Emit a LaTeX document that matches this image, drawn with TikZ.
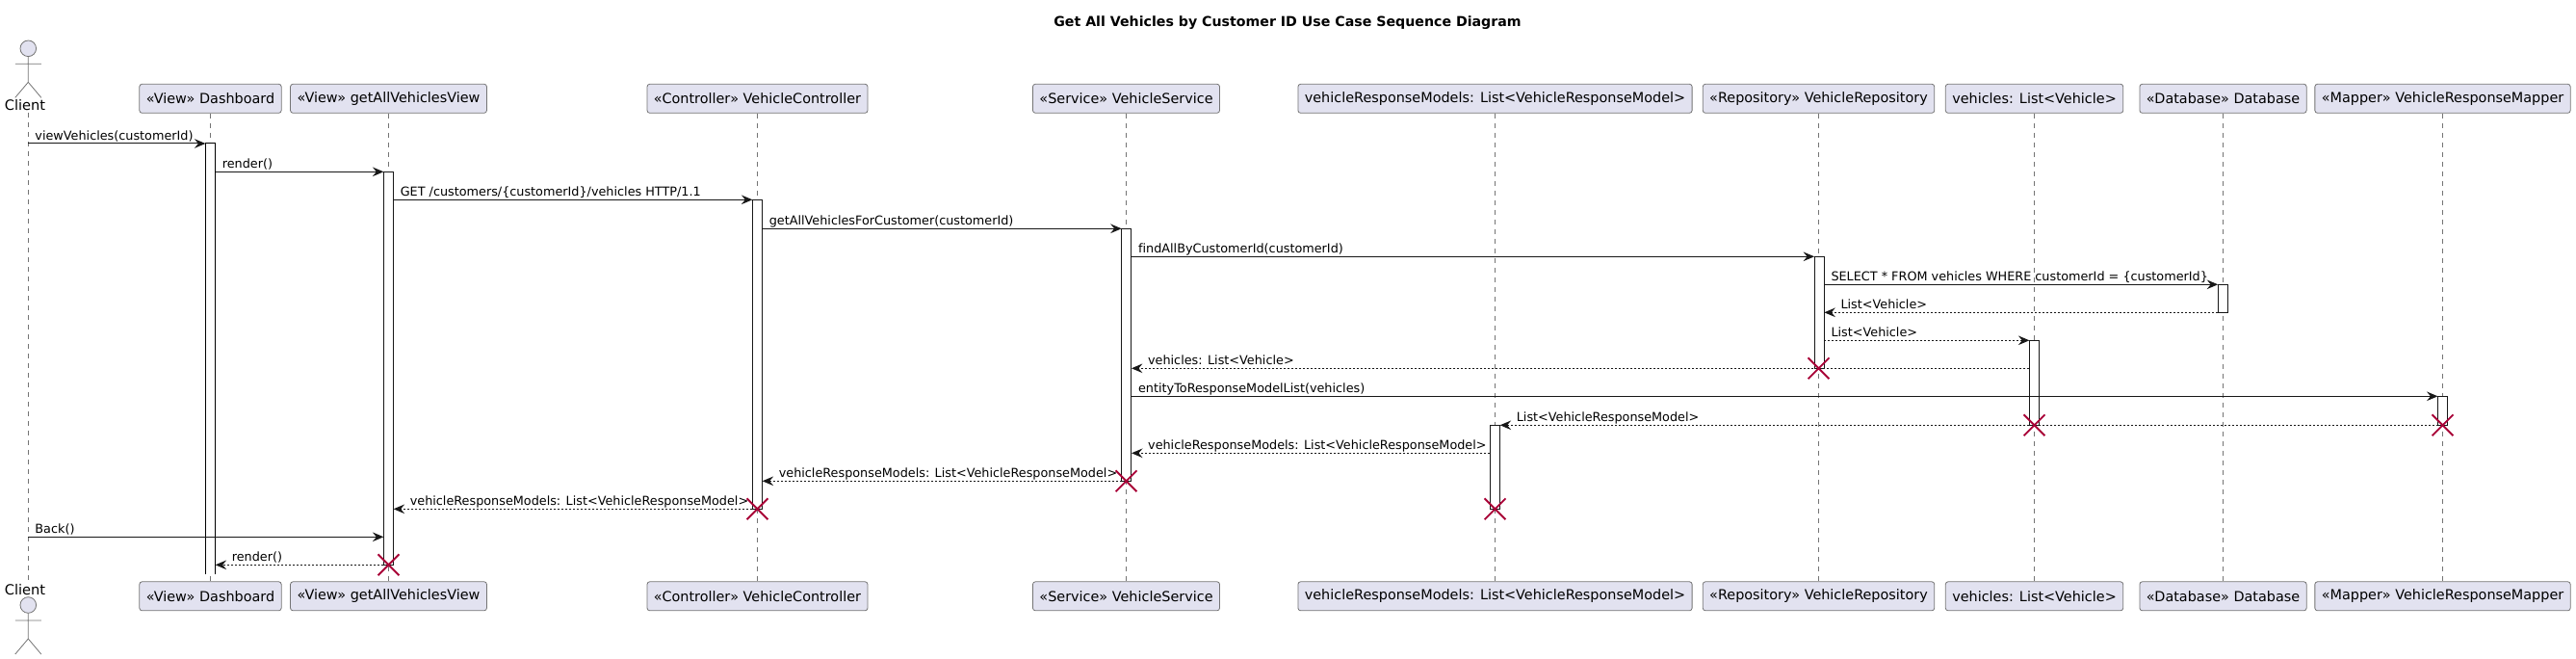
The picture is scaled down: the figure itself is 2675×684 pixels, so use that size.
\documentclass[tikz,border=0pt]{standalone}
\usepackage{fontspec}
\setmainfont[Ligatures=NoCommon]{DejaVu Sans}
\usetikzlibrary{arrows.meta,shapes.misc}
\definecolor{boxfill}{HTML}{E2E2F0}
\definecolor{linegray}{HTML}{181818}
\definecolor{delred}{HTML}{A80036}
\tikzset{
    partbox/.style={draw=linegray!60,fill=boxfill,line width=0.6pt,rounded corners=2pt,inner xsep=5.2pt,inner ysep=0pt,minimum height=22.5pt,font=\fontsize{10.8}{12}\selectfont},
    life/.style={draw=linegray!60,line width=0.55pt,dash pattern=on 3.75pt off 3.75pt},
    bar/.style={draw=linegray,fill=white,line width=0.75pt,inner sep=0pt,outer sep=0pt,minimum width=7.7pt,minimum height=#1*0.75pt,anchor=north},
    msg/.style={draw=linegray,line width=0.75pt,-{Stealth[length=8.6pt,width=7.2pt,inset=3pt]}},
    ret/.style={msg,dash pattern=on 1.5pt off 1.5pt},
    msglabel/.style={anchor=base west,inner sep=0pt,xshift=5pt,yshift=2.5pt,font=\fontsize{9.6}{11}\selectfont},
    retlabel/.style={msglabel,xshift=7.5pt},
    del/.style={cross out,draw=delred,line width=1.4pt,inner sep=0pt,minimum size=15pt},
    actorfig/.pic={
        \draw[draw=linegray!60,fill=boxfill,line width=0.6pt] (0,0) circle (8.3);
        \draw[draw=linegray!60,line width=0.6pt] (0,8.3)--(0,35) (-13.5,16)--(13.5,16) (-13.5,51)--(0,35)--(13.5,51);
    },
}
\begin{document}
\begin{tikzpicture}[x=0.75pt,y=-0.75pt]
    \useasboundingbox (0,0) rectangle (2675,684);

    \node[font=\bfseries\fontsize{10.63}{12}\selectfont] (title) at (1337,24) {Get All Vehicles by Customer ID Use Case Sequence Diagram};

    \coordinate (lClient) at (29.3,117);
    \coordinate (lClientB) at (29.3,603);
    \pic (actorTop) at (29.3,50.3) {actorfig};
    \pic (actorBot) at (29.3,628) {actorfig};
    \node[font=\fontsize{10.95}{13}\selectfont,inner sep=0pt,anchor=base] (tClient) at (26,114.7) {Client};
    \node[font=\fontsize{10.95}{13}\selectfont,inner sep=0pt,anchor=base] (bClient) at (26,617) {Client};

    \node[partbox] (hDash) at (218.5,102.3) {«View» Dashboard};
    \node[partbox] (hGet) at (403.5,102.3) {«View» getAllVehiclesView};
    \node[partbox] (hCtrl) at (786.5,102.3) {«Controller» VehicleController};
    \node[partbox] (hServ) at (1169.5,102.3) {«Service» VehicleService};
    \node[partbox] (hResp) at (1552.5,102.3) {vehicleResponseModels: List<VehicleResponseModel>};
    \node[partbox] (hRepo) at (1888.5,102.3) {«Repository» VehicleRepository};
    \node[partbox] (hVeh) at (2112.5,102.3) {vehicles: List<Vehicle>};
    \node[partbox] (hDB) at (2308.5,102.3) {«Database» Database};
    \node[partbox] (hMap) at (2536.5,102.3) {«Mapper» VehicleResponseMapper};

    \node[partbox] (fDash) at (218.5,618.8) {«View» Dashboard};
    \node[partbox] (fGet) at (403.5,618.8) {«View» getAllVehiclesView};
    \node[partbox] (fCtrl) at (786.5,618.8) {«Controller» VehicleController};
    \node[partbox] (fServ) at (1169.5,618.8) {«Service» VehicleService};
    \node[partbox] (fResp) at (1552.5,618.8) {vehicleResponseModels: List<VehicleResponseModel>};
    \node[partbox] (fRepo) at (1888.5,618.8) {«Repository» VehicleRepository};
    \node[partbox] (fVeh) at (2112.5,618.8) {vehicles: List<Vehicle>};
    \node[partbox] (fDB) at (2308.5,618.8) {«Database» Database};
    \node[partbox] (fMap) at (2536.5,618.8) {«Mapper» VehicleResponseMapper};

    \draw[life] (lClient)--(lClientB);
    \draw[life] (hDash)--(fDash);
    \draw[life] (hGet)--(fGet);
    \draw[life] (hCtrl)--(fCtrl);
    \draw[life] (hServ)--(fServ);
    \draw[life] (hResp)--(fResp);
    \draw[life] (hRepo)--(fRepo);
    \draw[life] (hVeh)--(fVeh);
    \draw[life] (hDB)--(fDB);
    \draw[life] (hMap)--(fMap);

    \node[bar=446.7,draw=none] (aDash) at (218.5,149) {};
    \draw[draw=black,line width=0.75pt] (aDash.south west)--(aDash.north west)--(aDash.north east)--(aDash.south east);
    \node[bar=408] (aGet) at (403.5,178.3) {};
    \node[bar=321] (aCtrl) at (786.5,207.3) {};
    \node[bar=262] (aServ) at (1169.8,237.3) {};
    \node[bar=87] (aResp) at (1552.5,441.3) {};
    \node[bar=116] (aRepo) at (1889.2,266.3) {};
    \node[bar=88] (aVeh) at (2112.5,353.3) {};
    \node[bar=29] (aDB) at (2308.3,295.3) {};
    \node[bar=30] (aMap) at (2536.6,411.3) {};
    \coordinate (respEnd) at (1175,470.3);
    \coordinate (backEnd) at (398.4,557.3);

    \draw[msg] (lClient |- aDash.north) node[msglabel] (mView) {viewVehicles(customerId)}--(aDash.north west);
    \draw[msg] (aDash.east |- aGet.north) node[msglabel] (mRender) {render()}--(aGet.north west);
    \draw[msg] (aGet.east |- aCtrl.north) node[msglabel] (mGet) {GET /customers/\{customerId\}/vehicles HTTP/1.1}--(aCtrl.north west);
    \draw[msg] (aCtrl.east |- aServ.north) node[msglabel] (mAll) {getAllVehiclesForCustomer(customerId)}--(aServ.north west);
    \draw[msg] (aServ.east |- aRepo.north) node[msglabel] (mFind) {findAllByCustomerId(customerId)}--(aRepo.north west);
    \draw[msg] (aRepo.east |- aDB.north) node[msglabel] (mSql) {SELECT * FROM vehicles WHERE customerId = \{customerId\}}--(aDB.north west);
    \draw[ret] (aDB.south west)--(aRepo.east |- aDB.south) node[retlabel] (rRows) {List<Vehicle>};
    \draw[ret] (aRepo.east |- aVeh.north) node[msglabel] (rList) {List<Vehicle>}--(aVeh.north west);
    \draw[ret] (aVeh.west |- aRepo.south)--(aServ.east |- aRepo.south) node[retlabel] (rVeh) {vehicles: List<Vehicle>};
    \draw[msg] (aServ.east |- aMap.north) node[msglabel] (mEntity) {entityToResponseModelList(vehicles)}--(aMap.north west);
    \draw[ret] (aMap.south west)--(aResp.north east) node[retlabel] (rMap) {List<VehicleResponseModel>};
    \draw[ret] (aResp.west |- respEnd)--(respEnd) node[retlabel] (rServ) {vehicleResponseModels: List<VehicleResponseModel>};
    \draw[ret] (aServ.south west)--(aCtrl.east |- aServ.south) node[retlabel] (rCtrl) {vehicleResponseModels: List<VehicleResponseModel>};
    \draw[ret] (aCtrl.south west)--(aGet.east |- aCtrl.south) node[retlabel] (rGet) {vehicleResponseModels: List<VehicleResponseModel>};
    \draw[msg] (lClient |- backEnd) node[msglabel] (mBack) {Back()}--(backEnd);
    \draw[ret] (aGet.south west)--(aDash.east |- aGet.south) node[retlabel] (rRender) {render()};

    \node[del] (xRepo) at (hRepo |- aRepo.south) {};
    \node[del] (xVeh) at (hVeh |- aVeh.south) {};
    \node[del] (xMap) at (hMap |- aMap.south) {};
    \node[del] (xResp) at (hResp |- aResp.south) {};
    \node[del] (xServ) at (hServ |- aServ.south) {};
    \node[del] (xCtrl) at (hCtrl |- aCtrl.south) {};
    \node[del] (xGet) at (hGet |- aGet.south) {};
\end{tikzpicture}
\end{document}
